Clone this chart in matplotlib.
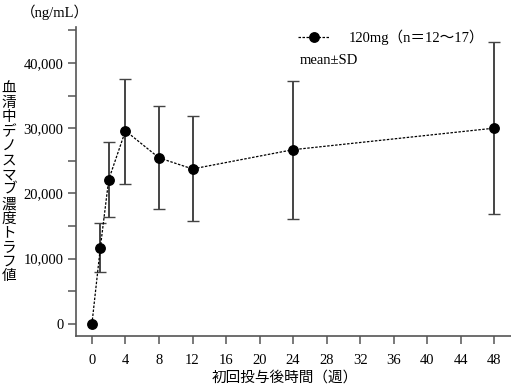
import matplotlib as mpl
mpl.use('Agg')
import matplotlib.pyplot as plt
from matplotlib.ticker import MultipleLocator, FuncFormatter

weeks = [0, 1, 2, 4, 8, 12, 24, 48]
mean_conc = [0, 11650, 22100, 29600, 25450, 23750, 26700, 30000]
sd_upper = [0, 15500, 27900, 37600, 33350, 31800, 37150, 43150]
sd_lower = [0, 7900, 16450, 21500, 17550, 15700, 16150, 16800]
x_ticks = [0, 4, 8, 12, 16, 20, 24, 28, 32, 36, 40, 44, 48]
y_ticks = [0, 10000, 20000, 30000, 40000]

serif_jp = ['Liberation Serif', 'Noto Sans CJK JP']
axis_grey = '#555555'

fig = plt.figure(figsize=(5.11, 3.88), dpi=100)
ax = fig.add_axes([76 / 511, 1 - 336 / 388, 1 - 76 / 511, (336 - 27) / 388])

err_lo = [m - l for m, l in zip(mean_conc, sd_lower)]
err_hi = [u - m for m, u in zip(mean_conc, sd_upper)]
ax.errorbar(weeks[1:], mean_conc[1:], yerr=[err_lo[1:], err_hi[1:]], fmt='none',
            ecolor='#444444', elinewidth=1.4, capsize=4, capthick=1.0, zorder=2)
line, = ax.plot(weeks, mean_conc, color='black', linestyle=(0, (2, 1.2)), linewidth=0.9,
                marker='o', markersize=6.8, markerfacecolor='black', markeredgecolor='black',
                zorder=3)

ax.set_xlim(-1.9, 50)
ax.set_ylim(-1850, 45500)
ax.set_xticks(x_ticks)
ax.set_yticks(y_ticks)
ax.yaxis.set_minor_locator(MultipleLocator(5000))
ax.yaxis.set_major_formatter(FuncFormatter(lambda v, p: '{:,}'.format(int(v))))

for s in ['top', 'right']:
    ax.spines[s].set_visible(False)
for s in ['left', 'bottom']:
    ax.spines[s].set_color(axis_grey)
    ax.spines[s].set_linewidth(1.2)
ax.tick_params(which='both', direction='out', color=axis_grey, width=1.1, length=6,
               labelsize=10.5)
ax.tick_params(axis='y', pad=3)
ax.tick_params(axis='x', pad=7)
for lab in ax.get_xticklabels() + ax.get_yticklabels():
    lab.set_family(serif_jp)

fig.text(55 / 511, 1 - 12 / 388, '（ng/mL）', family=serif_jp, fontsize=10.5,
         ha='center', va='center')
fig.text(9 / 511, 1 - 183 / 388, '\n'.join('血清中デノスマブ濃度トラフ値'), family=serif_jp,
         fontsize=10.5, ha='center', va='center', linespacing=1.13)
fig.text(285 / 511, 1 - 378 / 388, '初回投与後時間（週）', family=serif_jp, fontsize=10.5,
         ha='center', va='center')

leg = fig.legend([line], ['120mg（n＝12～17）'], loc='center left',
                 bbox_to_anchor=(298 / 511, 1 - 37 / 388), borderpad=0, borderaxespad=0,
                 frameon=False, handlelength=2.2, handletextpad=1.3,
                 prop={'family': serif_jp, 'size': 10.5})
fig.text(300 / 511, 1 - 60 / 388, 'mean±SD', family=serif_jp, fontsize=10.5,
         ha='left', va='center')

fig.savefig('out.png', dpi=100)
